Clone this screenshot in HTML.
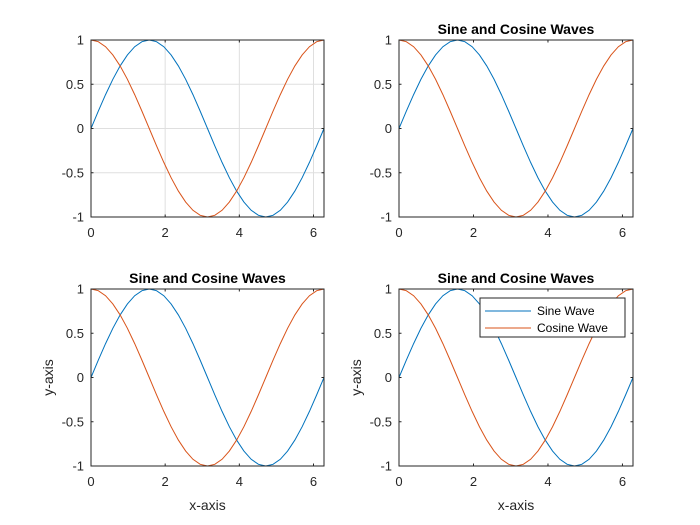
<!DOCTYPE html>
<html><head><meta charset="utf-8"><style>
html,body{margin:0;padding:0;background:#fff;}
svg{display:block;font-family:"Liberation Sans",Arial,sans-serif;}
</style></head><body>
<svg id="fig" width="700" height="525" viewBox="0 0 700 525"></svg>
<script>
// x samples: k*pi/16, k=0..32
const xSamples = [0,0.19635,0.3927,0.58905,0.7854,0.98175,1.1781,1.37445,1.5708,1.76715,1.9635,2.15985,2.35619,2.55254,2.74889,2.94524,3.14159,3.33794,3.53429,3.73064,3.92699,4.12334,4.31969,4.51604,4.71239,4.90874,5.10509,5.30144,5.49779,5.69414,5.89049,6.08684,6.28319];
const sineValues = [0,0.195,0.383,0.556,0.707,0.831,0.924,0.981,1,0.981,0.924,0.831,0.707,0.556,0.383,0.195,0,-0.195,-0.383,-0.556,-0.707,-0.831,-0.924,-0.981,-1,-0.981,-0.924,-0.831,-0.707,-0.556,-0.383,-0.195,0];
const cosineValues = [1,0.981,0.924,0.831,0.707,0.556,0.383,0.195,0,-0.195,-0.383,-0.556,-0.707,-0.831,-0.924,-0.981,-1,-0.981,-0.924,-0.831,-0.707,-0.556,-0.383,-0.195,0,0.195,0.383,0.556,0.707,0.831,0.924,0.981,1];
const xTicks = [0,2,4,6];
const yTicks = [-1,-0.5,0,0.5,1];
const yTickLabels = ["-1","-0.5","0","0.5","1"];

const NS="http://www.w3.org/2000/svg";
const svg=document.getElementById('fig');
function mk(tag,attrs,parent){const e=document.createElementNS(NS,tag);for(const k in attrs)e.setAttribute(k,attrs[k]);(parent||svg).appendChild(e);return e;}

const panels=[
 {name:'top-left',x0:91,x1:324,y0:40,y1:217,grid:true,title:false,labels:false,legend:false},
 {name:'top-right',x0:399,x1:633,y0:40,y1:217,grid:false,title:true,labels:false,legend:false},
 {name:'bottom-left',x0:91,x1:324,y0:289,y1:466,grid:false,title:true,labels:true,legend:false},
 {name:'bottom-right',x0:399,x1:633,y0:289,y1:466,grid:false,title:true,labels:true,legend:true}
];
const XMAX=6.28319;
panels.forEach(p=>{
  const g=mk('g',{});
  
  
  const sx=v=>p.x0+v/XMAX*(p.x1-p.x0);
  const sy=v=>p.y1-(v+1)/2*(p.y1-p.y0);
  if(p.grid){
    xTicks.forEach(t=>{const l=mk('line',{x1:sx(t),x2:sx(t),y1:p.y0,y2:p.y1,stroke:'#dfdfdf','stroke-width':1},g);});
    yTicks.forEach(t=>{const l=mk('line',{x1:p.x0,x2:p.x1,y1:sy(t),y2:sy(t),stroke:'#dfdfdf','stroke-width':1},g);});
  }
  const series=[[sineValues,'#0072BD','sine-line'],[cosineValues,'#D95319','cosine-line']];
  series.forEach(([vals,col,nm])=>{
    const d=xSamples.map((x,i)=>(i?'L':'M')+sx(x).toFixed(2)+','+sy(vals[i]).toFixed(2)).join('');
    const path=mk('path',{d:d,fill:'none',stroke:col,'stroke-width':1},g);
    
    
  });
  const box=mk('rect',{x:p.x0,y:p.y0,width:p.x1-p.x0,height:p.y1-p.y0,fill:'none',stroke:'#262626','stroke-width':1},g);
  
  
  xTicks.forEach(t=>{
    mk('line',{x1:sx(t),x2:sx(t),y1:p.y1,y2:p.y1-2.5,stroke:'#262626'},g);
    mk('line',{x1:sx(t),x2:sx(t),y1:p.y0,y2:p.y0+2.5,stroke:'#262626'},g);
    const tx=mk('text',{x:sx(t),y:p.y1+20,'text-anchor':'middle','font-size':13,fill:'#262626'},g);
    tx.textContent=t;
    
    
  });
  yTicks.forEach((t,i)=>{
    mk('line',{x1:p.x0,x2:p.x0+2.5,y1:sy(t),y2:sy(t),stroke:'#262626'},g);
    mk('line',{x1:p.x1,x2:p.x1-2.5,y1:sy(t),y2:sy(t),stroke:'#262626'},g);
    const ty=mk('text',{x:p.x0-7,y:sy(t)+4.5,'text-anchor':'end','font-size':13,fill:'#262626'},g);
    ty.textContent=yTickLabels[i];
    
    
  });
  if(p.title){
    const tt=mk('text',{x:(p.x0+p.x1)/2,y:p.y0-6,'text-anchor':'middle','font-size':14,'font-weight':'bold',fill:'#000'},g);
    tt.textContent='Sine and Cosine Waves';
    
    
  }
  if(p.labels){
    const xl=mk('text',{x:(p.x0+p.x1)/2,y:p.y1+44,'text-anchor':'middle','font-size':14,fill:'#262626'},g);
    xl.textContent='x-axis';
    
    
    const cy=(p.y0+p.y1)/2, cx=p.x0-38;
    const yl=mk('text',{x:cx,y:cy,'text-anchor':'middle','font-size':14,fill:'#262626',transform:'rotate(-90 '+cx+' '+cy+')'},g);
    yl.textContent='y-axis';
    
    
  }
  if(p.legend){
    const lg=mk('g',{},g);
    
    
    mk('rect',{x:480,y:298,width:145,height:39,fill:'#fff',stroke:'#262626','stroke-width':1},lg);
    [['Sine Wave','#0072BD',311],['Cosine Wave','#D95319',328]].forEach(([lab,col,yy])=>{
      const e=mk('g',{},lg);
      
      
      mk('line',{x1:485,x2:531,y1:yy,y2:yy,stroke:col,'stroke-width':1},e);
      const t=mk('text',{x:537,y:yy+4,'font-size':12,fill:'#000'},e);
      t.textContent=lab;
    });
  }
});
</script>
</body></html>
